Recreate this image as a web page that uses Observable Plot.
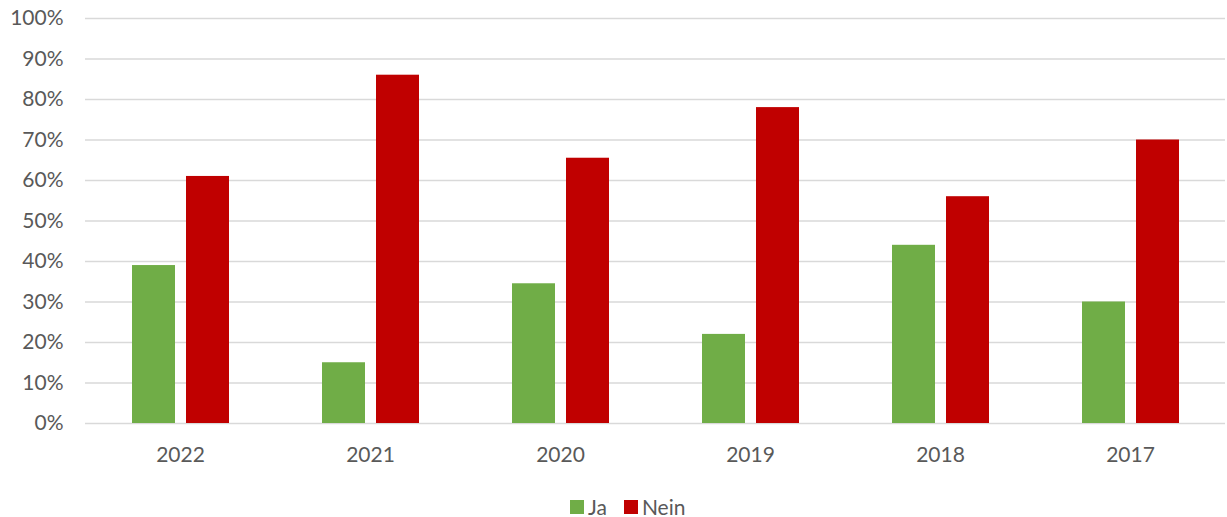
<!DOCTYPE html>
<html>
<head>
<meta charset="utf-8">
<script src="https://cdn.jsdelivr.net/npm/d3@7"></script>
<script src="https://cdn.jsdelivr.net/npm/@observablehq/plot@0.6"></script>
<style>
  html, body { margin: 0; padding: 0; background: #fff; }
  #wrap { position: relative; width: 1227px; height: 517px; font-family: Lato, "Open Sans", sans-serif; }
  #legend { position: absolute; left: 570px; top: 496px; display: flex; align-items: center; font-size: 21px; line-height: 22px; color: #595959; }
  .item { display: flex; align-items: center; margin-right: 17px; }
  .sw { width: 14px; height: 14px; margin-right: 4px; }
</style>
</head>
<body>
<div id="wrap"><div id="chart"></div><div id="legend"></div></div>
<script>
const years = ["2022", "2021", "2020", "2019", "2018", "2017"];
const ja = [39, 15, 34.5, 22, 44, 30];
const nein = [61, 86, 65.5, 78, 56, 70];
const series = ["Ja", "Nein"];
const colors = ["#70AD47", "#C00000"];
const yTicks = [0, 10, 20, 30, 40, 50, 60, 70, 80, 90, 100];

const data = years.flatMap((y, i) => [
  {year: y, series: "Ja", value: ja[i]},
  {year: y, series: "Nein", value: nein[i]}
]);

const chart = Plot.plot({
  width: 1227,
  height: 470,
  marginLeft: 83,
  marginRight: 0,
  marginTop: 18,
  marginBottom: 47,
  style: {fontFamily: "Lato, 'Open Sans', sans-serif", fontSize: "21px", color: "#595959", background: "white", overflow: "visible"},
  fx: {domain: years, padding: 0, label: null, axis: "bottom", tickSize: 0, tickPadding: 24},
  x: {domain: series, axis: null, paddingInner: 0.211, paddingOuter: 0.85},
  y: {domain: [0, 100], ticks: yTicks, tickFormat: d => d + "%", tickSize: 0, tickPadding: 22, label: null},
  color: {domain: series, range: colors},
  marks: [
    Plot.ruleY(yTicks, {stroke: "#d9d9d9", strokeWidth: 1.5}),
    Plot.barY(data, {fx: "year", x: "series", y: "value", fill: "series"})
  ]
});
document.getElementById("chart").appendChild(chart);

const legend = document.getElementById("legend");
series.forEach((s, i) => {
  const item = document.createElement("div");
  item.className = "item";
  const sw = document.createElement("div");
  sw.className = "sw";
  sw.style.background = colors[i];
  const t = document.createElement("span");
  t.textContent = s;
  item.appendChild(sw);
  item.appendChild(t);
  legend.appendChild(item);
});
</script>
</body>
</html>
